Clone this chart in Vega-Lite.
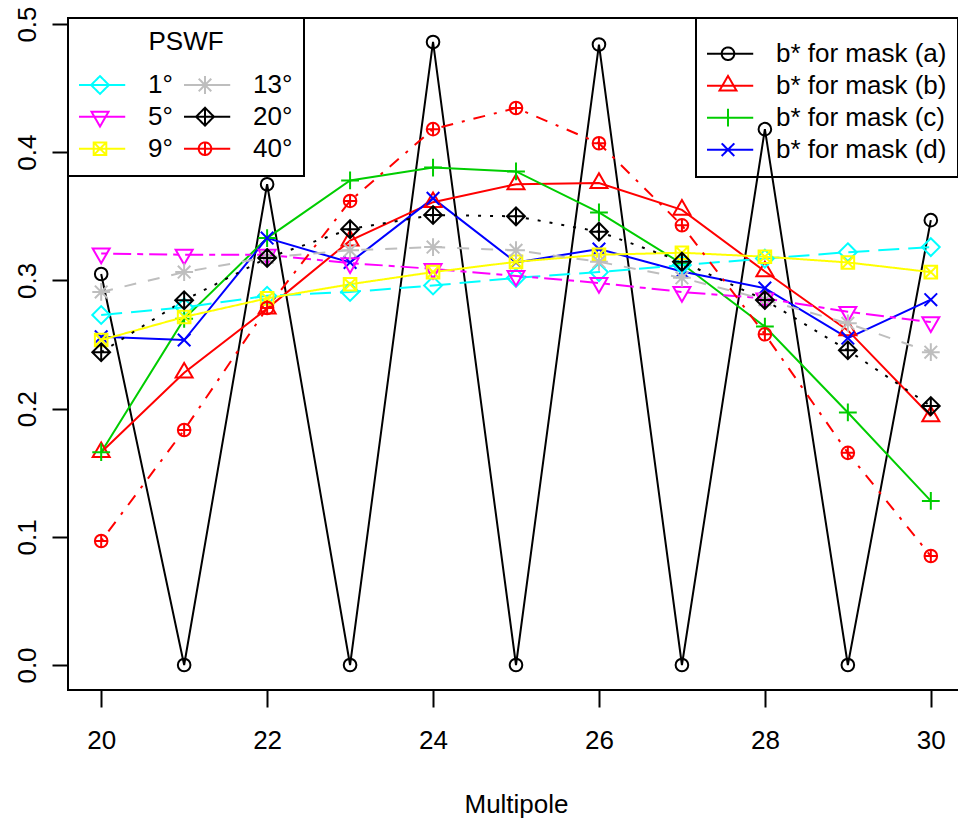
{
  "$schema": "https://vega.github.io/schema/vega-lite/v6.json",
  "width": 896,
  "height": 672,
  "autosize": {"type": "none"},
  "padding": {"left": 68, "top": 18, "right": -6, "bottom": 133},
  "config": {
    "font": "Liberation Sans",
    "view": {"stroke": "black", "strokeWidth": 2},
    "axis": {"grid": false, "domain": false, "tickColor": "black", "tickWidth": 2, "labelColor": "black", "labelFontSize": 26, "labelFont": "Liberation Sans", "titleFont": "Liberation Sans", "titleFontSize": 26, "titleFontWeight": "normal", "titleColor": "black"},
    "legend": {"strokeWidth": 2}
  },
  "datasets": {
    "mask": [
      {"x": 20, "s": "b* for mask (a)", "y": 0.305}, {"x": 21, "s": "b* for mask (a)", "y": 0}, {"x": 22, "s": "b* for mask (a)", "y": 0.375}, {"x": 23, "s": "b* for mask (a)", "y": 0}, {"x": 24, "s": "b* for mask (a)", "y": 0.486}, {"x": 25, "s": "b* for mask (a)", "y": 0}, {"x": 26, "s": "b* for mask (a)", "y": 0.484}, {"x": 27, "s": "b* for mask (a)", "y": 0}, {"x": 28, "s": "b* for mask (a)", "y": 0.418}, {"x": 29, "s": "b* for mask (a)", "y": 0}, {"x": 30, "s": "b* for mask (a)", "y": 0.347},
      {"x": 20, "s": "b* for mask (b)", "y": 0.166}, {"x": 21, "s": "b* for mask (b)", "y": 0.228}, {"x": 22, "s": "b* for mask (b)", "y": 0.278}, {"x": 23, "s": "b* for mask (b)", "y": 0.331}, {"x": 24, "s": "b* for mask (b)", "y": 0.361}, {"x": 25, "s": "b* for mask (b)", "y": 0.375}, {"x": 26, "s": "b* for mask (b)", "y": 0.376}, {"x": 27, "s": "b* for mask (b)", "y": 0.355}, {"x": 28, "s": "b* for mask (b)", "y": 0.307}, {"x": 29, "s": "b* for mask (b)", "y": 0.261}, {"x": 30, "s": "b* for mask (b)", "y": 0.194},
      {"x": 20, "s": "b* for mask (c)", "y": 0.166}, {"x": 21, "s": "b* for mask (c)", "y": 0.27}, {"x": 22, "s": "b* for mask (c)", "y": 0.333}, {"x": 23, "s": "b* for mask (c)", "y": 0.378}, {"x": 24, "s": "b* for mask (c)", "y": 0.388}, {"x": 25, "s": "b* for mask (c)", "y": 0.385}, {"x": 26, "s": "b* for mask (c)", "y": 0.353}, {"x": 27, "s": "b* for mask (c)", "y": 0.313}, {"x": 28, "s": "b* for mask (c)", "y": 0.264}, {"x": 29, "s": "b* for mask (c)", "y": 0.197}, {"x": 30, "s": "b* for mask (c)", "y": 0.128},
      {"x": 20, "s": "b* for mask (d)", "y": 0.256}, {"x": 21, "s": "b* for mask (d)", "y": 0.2535}, {"x": 22, "s": "b* for mask (d)", "y": 0.333}, {"x": 23, "s": "b* for mask (d)", "y": 0.314}, {"x": 24, "s": "b* for mask (d)", "y": 0.364}, {"x": 25, "s": "b* for mask (d)", "y": 0.314}, {"x": 26, "s": "b* for mask (d)", "y": 0.3245}, {"x": 27, "s": "b* for mask (d)", "y": 0.307}, {"x": 28, "s": "b* for mask (d)", "y": 0.294}, {"x": 29, "s": "b* for mask (d)", "y": 0.255}, {"x": 30, "s": "b* for mask (d)", "y": 0.285}
    ],
    "pswf": [
      {"x": 20, "s": "1°", "y": 0.273}, {"x": 21, "s": "1°", "y": 0.279}, {"x": 22, "s": "1°", "y": 0.288}, {"x": 23, "s": "1°", "y": 0.291}, {"x": 24, "s": "1°", "y": 0.296}, {"x": 25, "s": "1°", "y": 0.302}, {"x": 26, "s": "1°", "y": 0.3065}, {"x": 27, "s": "1°", "y": 0.312}, {"x": 28, "s": "1°", "y": 0.317}, {"x": 29, "s": "1°", "y": 0.322}, {"x": 30, "s": "1°", "y": 0.326},
      {"x": 20, "s": "5°", "y": 0.321}, {"x": 21, "s": "5°", "y": 0.32}, {"x": 22, "s": "5°", "y": 0.32}, {"x": 23, "s": "5°", "y": 0.3135}, {"x": 24, "s": "5°", "y": 0.309}, {"x": 25, "s": "5°", "y": 0.3035}, {"x": 26, "s": "5°", "y": 0.298}, {"x": 27, "s": "5°", "y": 0.291}, {"x": 28, "s": "5°", "y": 0.286}, {"x": 29, "s": "5°", "y": 0.2755}, {"x": 30, "s": "5°", "y": 0.2675},
      {"x": 20, "s": "9°", "y": 0.2535}, {"x": 21, "s": "9°", "y": 0.2715}, {"x": 22, "s": "9°", "y": 0.286}, {"x": 23, "s": "9°", "y": 0.297}, {"x": 24, "s": "9°", "y": 0.3065}, {"x": 25, "s": "9°", "y": 0.3145}, {"x": 26, "s": "9°", "y": 0.32}, {"x": 27, "s": "9°", "y": 0.3216}, {"x": 28, "s": "9°", "y": 0.3185}, {"x": 29, "s": "9°", "y": 0.314}, {"x": 30, "s": "9°", "y": 0.3065},
      {"x": 20, "s": "13°", "y": 0.291}, {"x": 21, "s": "13°", "y": 0.3065}, {"x": 22, "s": "13°", "y": 0.318}, {"x": 23, "s": "13°", "y": 0.3235}, {"x": 24, "s": "13°", "y": 0.326}, {"x": 25, "s": "13°", "y": 0.3235}, {"x": 26, "s": "13°", "y": 0.3145}, {"x": 27, "s": "13°", "y": 0.302}, {"x": 28, "s": "13°", "y": 0.285}, {"x": 29, "s": "13°", "y": 0.2665}, {"x": 30, "s": "13°", "y": 0.244},
      {"x": 20, "s": "20°", "y": 0.244}, {"x": 21, "s": "20°", "y": 0.2845}, {"x": 22, "s": "20°", "y": 0.3175}, {"x": 23, "s": "20°", "y": 0.34}, {"x": 24, "s": "20°", "y": 0.351}, {"x": 25, "s": "20°", "y": 0.35}, {"x": 26, "s": "20°", "y": 0.338}, {"x": 27, "s": "20°", "y": 0.3146}, {"x": 28, "s": "20°", "y": 0.2847}, {"x": 29, "s": "20°", "y": 0.2455}, {"x": 30, "s": "20°", "y": 0.202},
      {"x": 20, "s": "40°", "y": 0.0967}, {"x": 21, "s": "40°", "y": 0.1833}, {"x": 22, "s": "40°", "y": 0.2785}, {"x": 23, "s": "40°", "y": 0.362}, {"x": 24, "s": "40°", "y": 0.418}, {"x": 25, "s": "40°", "y": 0.4345}, {"x": 26, "s": "40°", "y": 0.407}, {"x": 27, "s": "40°", "y": 0.343}, {"x": 28, "s": "40°", "y": 0.258}, {"x": 29, "s": "40°", "y": 0.1655}, {"x": 30, "s": "40°", "y": 0.085}
    ]
  },
  "encoding": {
    "x": {"field": "x", "type": "quantitative", "scale": {"domain": [19.6, 30.4], "nice": false, "zero": false}, "axis": {"values": [20, 22, 24, 26, 28, 30], "tickSize": 17, "labelPadding": 20, "labelFlush": false, "title": "Multipole", "titlePadding": 38}},
    "y": {"field": "y", "type": "quantitative", "scale": {"domain": [-0.0195, 0.5047], "nice": false, "zero": false}, "axis": {"values": [0, 0.1, 0.2, 0.3, 0.4, 0.5], "format": ".1f", "labelAngle": 270, "labelAlign": "center", "labelBaseline": "bottom", "tickSize": 16, "labelPadding": 12, "labelFlush": false, "title": null}}
  },
  "layer": [
    {
      "data": {"name": "mask"},
      "layer": [
        {
          "mark": {"type": "line", "strokeWidth": 2},
          "encoding": {
            "color": {"field": "s", "type": "nominal",
              "scale": {"domain": ["b* for mask (a)", "b* for mask (b)", "b* for mask (c)", "b* for mask (d)"], "range": ["#000000", "#FF0000", "#00CD00", "#0000FF"]},
              "legend": {"orient": "none", "legendX": 628, "legendY": 0, "title": " ", "titleFontSize": 3, "titlePadding": 6, "padding": 11, "strokeColor": "black", "fillColor": "transparent", "symbolSize": 159, "symbolStrokeWidth": 2, "symbolOffset": 8, "labelOffset": 35, "labelFontSize": 26, "labelFont": "Liberation Sans", "labelColor": "black", "labelLimit": 400, "clipHeight": 31.4, "rowPadding": 0, "labelExpr": "datum.label + '\u00a0\u00a0'",
                "encode": {"legend": {"update": {"strokeWidth": {"value": 2}}}, "symbols": {"update": {"fill": {"value": "transparent"}, "strokeWidth": {"value": 2}, "size": {"value": 159}, "strokeDash": {"value": [1, 0]}, "shape": {"signal": "datum.value == 'b* for mask (a)' ? 'M-4,0L4,0M-1,0C-1,-0.5523 -0.5523,-1 0,-1C0.5523,-1 1,-0.5523 1,0C1,0.5523 0.5523,1 0,1C-0.5523,1 -1,0.5523 -1,0Z' : datum.value == 'b* for mask (b)' ? 'M-4,0L4,0M0,-1.555L1.347,0.778L-1.347,0.778Z' : datum.value == 'b* for mask (c)' ? 'M-4,0L4,0M0,-1.414L0,1.414' : 'M-4,0L4,0M-1,-1L1,1M-1,1L1,-1'"}}}}}
            }
          }
        },
        {
          "mark": {"type": "point", "filled": false, "strokeWidth": 2, "size": 159, "opacity": 1},
          "encoding": {
            "color": {"field": "s", "type": "nominal"},
            "shape": {"field": "s", "type": "nominal", "legend": null,
              "scale": {"domain": ["b* for mask (d)", "b* for mask (c)", "b* for mask (b)", "b* for mask (a)"],
                "range": ["M-1,-1L1,1M-1,1L1,-1", "M-1.414,0L1.414,0M0,-1.414L0,1.414", "M0,-1.555L1.347,0.778L-1.347,0.778Z", "M-1,0C-1,-0.5523 -0.5523,-1 0,-1C0.5523,-1 1,-0.5523 1,0C1,0.5523 0.5523,1 0,1C-0.5523,1 -1,0.5523 -1,0Z"]}}
          }
        }
      ]
    },
    {
      "data": {"name": "pswf"},
      "layer": [
        {
          "mark": {"type": "line", "strokeWidth": 2},
          "encoding": {
            "color": {"field": "s", "type": "nominal",
              "scale": {"domain": ["1°", "5°", "9°", "13°", "20°", "40°"], "range": ["#00FFFF", "#FF00FF", "#FFFF00", "#BEBEBE", "#000000", "#FF0000"]},
              "legend": {"orient": "none", "legendX": 0, "legendY": 0, "title": "PSWF", "titleAnchor": "middle", "titleFontSize": 26, "titleFontWeight": "normal", "titleFont": "Liberation Sans", "titleColor": "black", "titlePadding": 14, "columns": 2, "columnPadding": 11, "padding": 11, "strokeColor": "black", "fillColor": "transparent", "symbolSize": 159, "symbolStrokeWidth": 2, "symbolOffset": 8, "labelOffset": 35, "labelFontSize": 26, "labelFont": "Liberation Sans", "labelColor": "black", "labelLimit": 400, "clipHeight": 31.4, "rowPadding": 0, "labelExpr": "datum.label + '\u00a0'",
                "encode": {"legend": {"update": {"strokeWidth": {"value": 2}}}, "symbols": {"update": {"fill": {"value": "transparent"}, "strokeWidth": {"value": 2}, "size": {"value": 159}, "strokeDash": {"value": [1, 0]}, "shape": {"signal": "datum.value == '1°' ? 'M-4,0L4,0M0,-1.414L1.414,0L0,1.414L-1.414,0Z' : datum.value == '5°' ? 'M-4,0L4,0M0,1.555L1.347,-0.778L-1.347,-0.778Z' : datum.value == '9°' ? 'M-4,0L4,0M-1,-1L1,-1L1,1L-1,1ZM-1,-1L1,1M-1,1L1,-1' : datum.value == '13°' ? 'M-4,0L4,0M-1,-1L1,1M-1,1L1,-1M0,-1.414L0,1.414' : datum.value == '20°' ? 'M-4,0L4,0M0,-1.414L1.414,0L0,1.414L-1.414,0ZM0,-1.414L0,1.414' : 'M-4,0L4,0M-1,0C-1,-0.5523 -0.5523,-1 0,-1C0.5523,-1 1,-0.5523 1,0C1,0.5523 0.5523,1 0,1C-0.5523,1 -1,0.5523 -1,0ZM0,-1L0,1'"}}}}}
            },
            "strokeDash": {"field": "s", "type": "nominal", "legend": null,
              "scale": {"domain": ["40°", "20°", "13°", "9°", "5°", "1°"], "range": [[3, 9, 12, 9], [3, 9], [12, 12], [1, 0], [6, 6, 18, 6], [21, 9]]}}
          }
        },
        {
          "mark": {"type": "point", "filled": false, "strokeWidth": 2, "size": 159, "opacity": 1},
          "encoding": {
            "color": {"field": "s", "type": "nominal"},
            "shape": {"field": "s", "type": "nominal", "legend": null,
              "scale": {"domain": ["40°", "20°", "13°", "9°", "5°", "1°"],
                "range": ["M-1,0C-1,-0.5523 -0.5523,-1 0,-1C0.5523,-1 1,-0.5523 1,0C1,0.5523 0.5523,1 0,1C-0.5523,1 -1,0.5523 -1,0ZM-1,0L1,0M0,-1L0,1", "M0,-1.414L1.414,0L0,1.414L-1.414,0ZM-1.414,0L1.414,0M0,-1.414L0,1.414", "M-1,-1L1,1M-1,1L1,-1M-1.414,0L1.414,0M0,-1.414L0,1.414", "M-1,-1L1,-1L1,1L-1,1ZM-1,-1L1,1M-1,1L1,-1", "M0,1.555L1.347,-0.778L-1.347,-0.778Z", "M0,-1.414L1.414,0L0,1.414L-1.414,0Z"]}}
          }
        }
      ]
    }
  ],
  "resolve": {"scale": {"color": "independent", "shape": "independent", "strokeDash": "independent"}}
}
